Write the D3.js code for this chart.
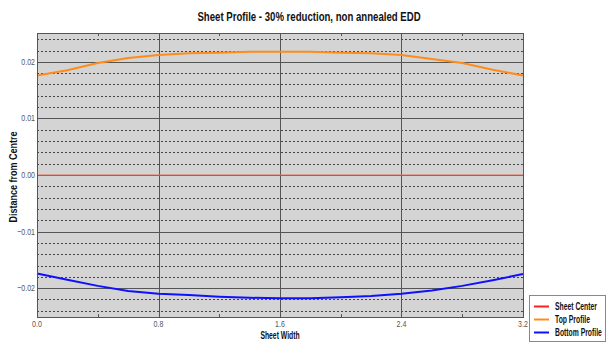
<!DOCTYPE html>
<html>
<head>
<meta charset="utf-8">
<script src="https://cdn.jsdelivr.net/npm/d3@7"></script>
<style>
  body { margin: 0; background: #fff; }
  svg { display: block; }
  text { font-family: "Liberation Sans", Arial, sans-serif; }
</style>
</head>
<body>
<div id="container"></div>
<script>
//sheet profile chart data
var xPositions = [0, 0.2, 0.4, 0.6, 0.8, 1.0, 1.2, 1.4, 1.6, 1.8, 2.0, 2.2, 2.4, 2.6, 2.8, 3.0, 3.2];
var topProfile = [0.0176, 0.0185, 0.0198, 0.0207, 0.0212, 0.0215, 0.0216, 0.0218, 0.0218, 0.0218, 0.0216, 0.0215, 0.0212, 0.0205, 0.0198, 0.0186, 0.0176];
var bottomProfile = [-0.0174, -0.0185, -0.0196, -0.0205, -0.0210, -0.0212, -0.0215, -0.0217, -0.0218, -0.0218, -0.0216, -0.0214, -0.0210, -0.0204, -0.0196, -0.0186, -0.0175];
var centerProfile = [0, 0];
var centerX = [0, 3.2];
var xTicks = [0, 0.8, 1.6, 2.4, 3.2];
var xMinorTicks = [0.4, 1.2, 2.0, 2.8];
var yTicks = [-0.02, -0.01, 0, 0.01, 0.02];
var yMinorTicks = [-0.024, -0.022, -0.018, -0.016, -0.014, -0.012, -0.008, -0.006, -0.004, -0.002,
                   0.002, 0.004, 0.006, 0.008, 0.012, 0.014, 0.016, 0.018, 0.022, 0.024];
var seriesNames = ["Sheet Center", "Top Profile", "Bottom Profile"];
var seriesColors = ["#ff2020", "#ff8c1a", "#1010ff"];

(function(){
    var width = 608, height = 343;
    var left = 37, right = 523, top = 33, bottom = 317;

    //no narrow font installed, so squeeze text horizontally with a transform
    function placeText(parent, px, py, sx, rot){
        var g = parent.append("g")
            .attr("transform", "translate(" + px + "," + py + ")" + (rot ? " rotate(" + rot + ")" : "") + " scale(" + sx + ",1)");
        return g.append("text");
    }

    var svg = d3.select("#container").append("svg")
        .attr("width", width)
        .attr("height", height);

    var x = d3.scaleLinear().domain([0, 3.2]).range([left, right]);
    var y = d3.scaleLinear().domain([-0.0251, 0.0251]).range([bottom, top]);

    //plot background
    svg.append("rect")
        .attr("x", left).attr("y", top)
        .attr("width", right - left).attr("height", bottom - top)
        .attr("fill", "#d4d4d4");

    //dashed minor grid
    svg.selectAll(".minor")
        .data(yMinorTicks)
        .enter().append("line")
        .attr("x1", left).attr("x2", right)
        .attr("y1", function(d){ return Math.round(y(d)) + 0.5; })
        .attr("y2", function(d){ return Math.round(y(d)) + 0.5; })
        .attr("stroke", "#444")
        .attr("stroke-width", 1)
        .attr("stroke-dasharray", "2,2");

    //solid major grid
    svg.selectAll(".majorY")
        .data(yTicks)
        .enter().append("line")
        .attr("x1", left).attr("x2", right)
        .attr("y1", function(d){ return Math.round(y(d)) + 0.5; })
        .attr("y2", function(d){ return Math.round(y(d)) + 0.5; })
        .attr("stroke", "#555")
        .attr("stroke-width", 1);

    svg.selectAll(".majorX")
        .data(xTicks)
        .enter().append("line")
        .attr("y1", top).attr("y2", bottom)
        .attr("x1", function(d){ return Math.round(x(d)) + 0.5; })
        .attr("x2", function(d){ return Math.round(x(d)) + 0.5; })
        .attr("stroke", "#555")
        .attr("stroke-width", 1);

    //minor x ticks on top and bottom edges
    [top, bottom].forEach(function(edge, i){
        svg.selectAll(".mt" + i)
            .data(xMinorTicks)
            .enter().append("line")
            .attr("x1", function(d){ return Math.round(x(d)) + 0.5; })
            .attr("x2", function(d){ return Math.round(x(d)) + 0.5; })
            .attr("y1", edge)
            .attr("y2", i === 0 ? edge + 3 : edge - 3)
            .attr("stroke", "#555");
    });

    //series lines
    var line = d3.line()
        .x(function(d){ return x(d[0]); })
        .y(function(d){ return y(d[1]); });

    svg.append("path")
        .datum(centerX.map(function(v, i){ return [v, centerProfile[i]]; }))
        .attr("d", line)
        .attr("fill", "none")
        .attr("stroke", "#e8705a")
        .attr("stroke-width", 1);

    svg.append("path")
        .datum(xPositions.map(function(v, i){ return [v, topProfile[i]]; }))
        .attr("d", line)
        .attr("fill", "none")
        .attr("stroke", seriesColors[1])
        .attr("stroke-width", 2);

    svg.append("path")
        .datum(xPositions.map(function(v, i){ return [v, bottomProfile[i]]; }))
        .attr("d", line)
        .attr("fill", "none")
        .attr("stroke", seriesColors[2])
        .attr("stroke-width", 2);

    //plot frame
    svg.append("rect")
        .attr("x", left + 0.5).attr("y", top + 0.5)
        .attr("width", right - left).attr("height", bottom - top)
        .attr("fill", "none")
        .attr("stroke", "#555");

    //tick labels
    yTicks.forEach(function(d){
        placeText(svg, left - 2, y(d) + 3, 0.74)
            .attr("text-anchor", "end")
            .attr("font-size", "9.5px")
            .attr("fill", "#555")
            .text(d3.format(".2f")(d));
    });

    xTicks.forEach(function(d){
        placeText(svg, x(d), bottom + 10, 0.74)
            .attr("text-anchor", "middle")
            .attr("font-size", "9.5px")
            .attr("fill", "#555")
            .text(d3.format(".1f")(d));
    });

    //titles
    placeText(svg, 309, 21, 0.74)
        .attr("text-anchor", "middle")
        .attr("font-size", "13px")
        .attr("font-weight", "bold")
        .attr("fill", "#111")
        .text("Sheet Profile - 30% reduction, non annealed EDD");

    placeText(svg, 280, 339, 0.68)
        .attr("text-anchor", "middle")
        .attr("font-size", "10px")
        .attr("font-weight", "bold")
        .attr("fill", "#111")
        .text("Sheet Width");

    placeText(svg, 17, 177, 0.9, -90)
        .attr("text-anchor", "middle")
        .attr("font-size", "10px")
        .attr("font-weight", "bold")
        .attr("fill", "#111")
        .text("Distance from Centre");

    //legend
    var legend = svg.append("g").attr("transform", "translate(529,295)");
    legend.append("rect")
        .attr("x", 0.5).attr("y", 0.5)
        .attr("width", 76).attr("height", 46)
        .attr("fill", "#fff")
        .attr("stroke", "#888");

    seriesNames.forEach(function(name, i){
        var ly = 11 + i * 13;
        legend.append("line")
            .attr("x1", 5).attr("x2", 20)
            .attr("y1", ly + 0.5).attr("y2", ly + 0.5)
            .attr("stroke", seriesColors[i])
            .attr("stroke-width", 2);

        placeText(legend, 26, ly + 4, 0.68)
            .attr("font-size", "10px")
            .attr("font-weight", "bold")
            .attr("fill", "#111")
            .text(name);
    });
})();
</script>
</body>
</html>
